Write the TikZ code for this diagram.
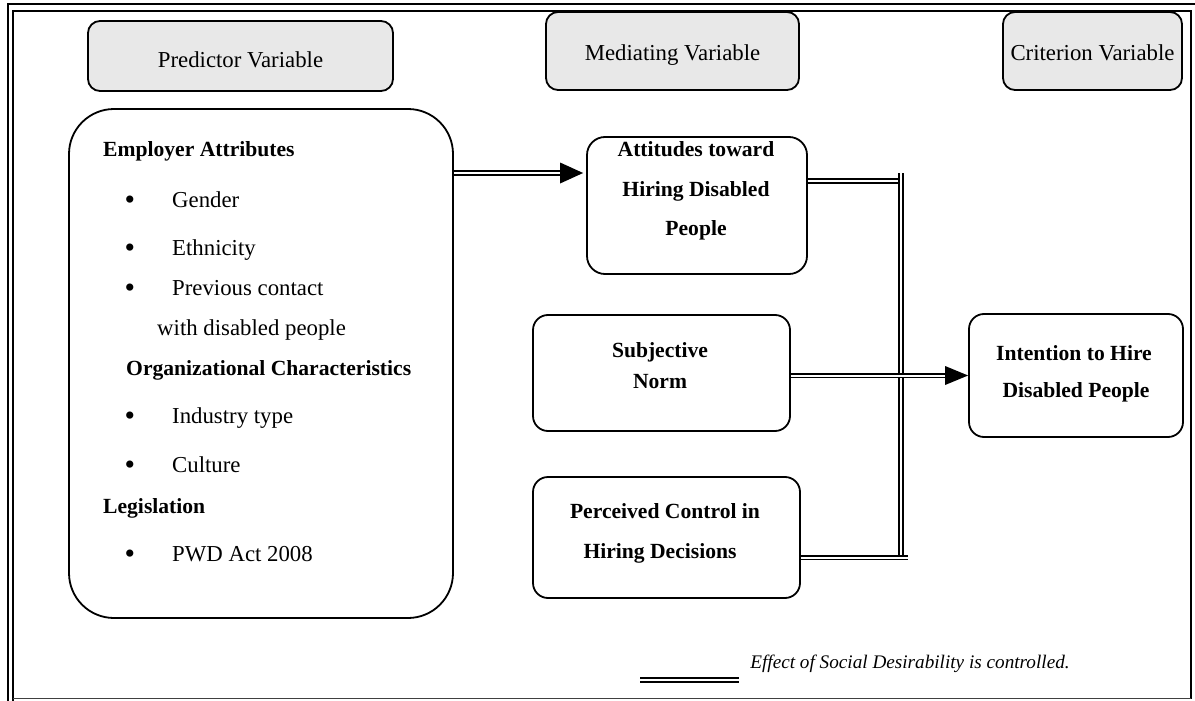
\documentclass[tikz,border=0pt]{standalone}
\usepackage{fontspec}
\setmainfont{Liberation Serif}
\usetikzlibrary{calc}
\definecolor{hdrgray}{RGB}{232,232,232}
\begin{document}
\begin{tikzpicture}[x=1pt,y=-1pt,
  hdr/.style={draw, line width=1.8pt, fill=hdrgray, rounded corners=12pt, inner sep=0pt},
  mbox/.style={draw, line width=1.8pt, rounded corners=18pt, inner sep=0pt},
  reg/.style={font=\fontsize{22.8}{27}\selectfont, inner sep=0pt},
  bul/.style={font=\fontsize{30}{30}\selectfont, inner sep=0pt, anchor=base},
  bld/.style={font=\fontsize{21.6}{26}\selectfont\bfseries, inner sep=0pt},
  itl/.style={font=\fontsize{19.2}{23}\selectfont\itshape, inner sep=0pt},
  dbl/.style={draw, double, double distance=2pt, line width=1.6pt},
  framebold/.style={line width=2.2pt},
]
\useasboundingbox (0,0) rectangle (1195,701);

% frame
\draw[framebold] (8,701) -- (8,4) -- (1195,4);
\draw[framebold] (13,701) -- (13,11) -- (1191,11) -- (1191,699);
\draw[line width=1.2pt, black!75] (13,698.5) -- (1191,698.5);

% headers
\node[hdr, minimum width=305pt, minimum height=70pt] (hp) at (240.5,56) {};
\node[reg, anchor=base] (hpt) at (240.5,68) {Predictor Variable};
\node[hdr, minimum width=253pt, minimum height=78pt] (hm) at (672.5,51) {};
\node[reg, anchor=base] (hmt) at (672.5,61) {Mediating Variable};
\node[hdr, minimum width=179pt, minimum height=78pt] (hc) at (1092.5,51) {};
\node[reg, anchor=base] (hct) at (1092.5,61) {Criterion Variable};

% predictor box
\node[mbox, rounded corners=45pt, minimum width=384pt, minimum height=509pt] (pred) at (261,363.5) {};
\node[bld, anchor=base west] (ea) at (103,157) {Employer Attributes};
\node[bul] (b1) at (130,209) {\textbullet};
\node[reg, anchor=base west] (t1) at (172,207) {Gender};
\node[bul] (b2) at (130,257) {\textbullet};
\node[reg, anchor=base west] (t2) at (172,255) {Ethnicity};
\node[bul] (b3) at (130,297) {\textbullet};
\node[reg, anchor=base west] (t3) at (172,295) {Previous contact};
\node[reg, anchor=base west] (t3b) at (157,335) {with disabled people};
\node[bld, anchor=base west] (oc) at (126,375) {Organizational Characteristics};
\node[bul] (b4) at (130,425) {\textbullet};
\node[reg, anchor=base west] (t4) at (172,423) {Industry type};
\node[bul] (b5) at (130,474) {\textbullet};
\node[reg, anchor=base west] (t5) at (172,472) {Culture};
\node[bld, anchor=base west] (lg) at (103,513) {Legislation};
\node[bul] (b6) at (130,563) {\textbullet};
\node[reg, anchor=base west] (t6) at (172,561) {PWD Act 2008};

% mediating boxes
\node[mbox, minimum width=220pt, minimum height=137pt] (att) at (697,205.5) {};
\node[bld, anchor=base] (att1) at (696,157) {Attitudes toward};
\node[bld, anchor=base] (att2) at (696,196) {Hiring Disabled};
\node[bld, anchor=base] (att3) at (696,235) {People};

\node[mbox, rounded corners=15pt, minimum width=257pt, minimum height=116pt] (subj) at (661.5,373) {};
\node[bld, anchor=base] (subj1) at (660,357) {Subjective};
\node[bld, anchor=base] (subj2) at (660,388) {Norm};

\node[mbox, rounded corners=15pt, minimum width=267pt, minimum height=121pt] (perc) at (666.5,537.5) {};
\node[bld, anchor=base] (perc1) at (665,518) {Perceived Control in};
\node[bld, anchor=base] (perc2) at (660,558) {Hiring Decisions};

% criterion box
\node[mbox, rounded corners=15pt, minimum width=214pt, minimum height=123pt] (int) at (1076,375.5) {};
\node[bld, anchor=base] (int1) at (1074,360) {Intention to Hire};
\node[bld, anchor=base] (int2) at (1076,397) {Disabled People};

% connectors
\coordinate (tip1) at ($(att.west |- 0,173)+(-3,0)$);
\draw[dbl] (pred.east |- 0,173) -- ($(tip1)+(-22,0)$);
\fill (tip1) -- ++(-23,-10.5) -- ++(0,21) -- cycle;

\coordinate (v1) at (901,173);
\coordinate (v2) at (901,558);
\draw[dbl] (att.east |- 0,181) -- (903,181);
\draw[dbl] (v1) -- (v2);
\draw[dbl] (perc.east |- 0,557.5) -- (908,557.5);

\coordinate (tip2) at (int.west |- 0,375.5);
\draw[dbl] (subj.east |- 0,375.5) -- ($(tip2)+(-22,0)$);
\fill (tip2) -- ++(-23,-9.5) -- ++(0,19) -- cycle;

% legend
\coordinate (l1) at (640,680);
\coordinate (l2) at (739,680);
\draw[dbl] (l1) -- (l2);
\node[itl, anchor=base] (note) at (910,668) {Effect of Social Desirability is controlled.};
\end{tikzpicture}
\end{document}
